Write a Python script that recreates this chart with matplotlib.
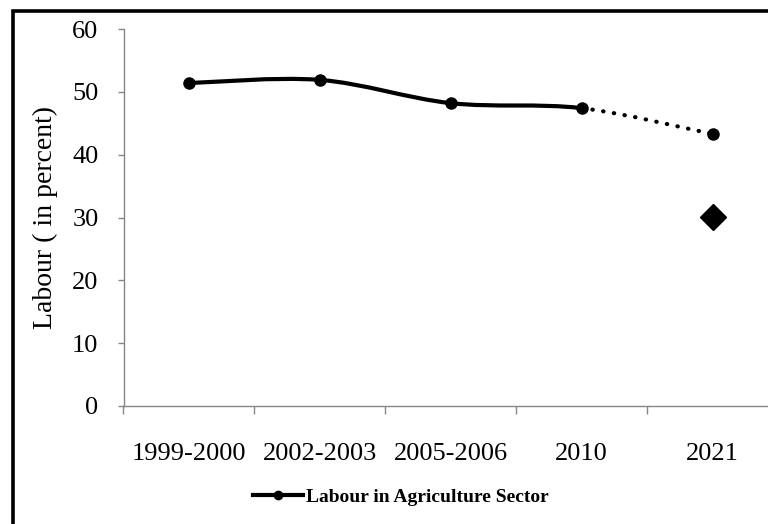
import matplotlib
matplotlib.use("Agg")
import matplotlib.pyplot as plt
import numpy as np
from matplotlib.path import Path
from matplotlib.patches import PathPatch, Rectangle
from matplotlib.lines import Line2D

categories = ["1999-2000", "2002-2003", "2005-2006", "2010", "2021"]
labour = [51.4, 51.9, 48.2, 47.4, 43.3]
target_2021 = 30.1
yticks = [0, 10, 20, 30, 40, 50, 60]

plt.rcParams['font.family'] = ['Liberation Serif', 'DejaVu Serif']

W, H = 768, 524
fig = plt.figure(figsize=(W / 100, H / 100), dpi=100)
ax = fig.add_axes([123.5 / W, (H - 406) / H, (778 - 123.5) / W, (406 - 29) / H])

x = np.arange(len(categories), dtype=float)
y = np.array(labour, dtype=float)


def smooth_path(xs, ys, i0, i1):
    verts = [(xs[i0], ys[i0])]
    codes = [Path.MOVETO]
    n = len(xs)
    for i in range(i0, i1):
        p0 = np.array([xs[max(i - 1, 0)], ys[max(i - 1, 0)]])
        p1 = np.array([xs[i], ys[i]])
        p2 = np.array([xs[i + 1], ys[i + 1]])
        p3 = np.array([xs[min(i + 2, n - 1)], ys[min(i + 2, n - 1)]])
        c1 = p1 + (p2 - p0) / 6.0
        c2 = p2 - (p3 - p1) / 6.0
        verts += [tuple(c1), tuple(c2), tuple(p2)]
        codes += [Path.CURVE4] * 3
    return Path(verts, codes)


solid = PathPatch(smooth_path(x, y, 0, 3), fill=False, lw=3.0, ec='black',
                  capstyle='round', joinstyle='round', zorder=3)
ax.add_patch(solid)
dotted = PathPatch(smooth_path(x, y, 3, 4), fill=False, lw=3.0, ec='black',
                   linestyle=(0, (0.1, 2.5)), capstyle='round', zorder=3)
ax.add_patch(dotted)
ax.plot(x, y, linestyle='none', marker='o', ms=8, color='black', zorder=4)
ax.plot([x[4]], [target_2021], linestyle='none', marker='D', ms=13, color='black', zorder=4)

ax.set_xlim(-0.5, len(categories) - 0.5)
ax.set_ylim(0, 60)
ax.set_yticks(yticks)
ax.set_yticklabels([str(v) for v in yticks], fontsize=19)
ax.set_xticks(x)
ax.set_xticklabels(categories, fontsize=19)
ax.set_xticks(np.arange(-0.5, len(categories), 1.0), minor=True)
ax.tick_params(axis='x', which='major', length=0, pad=27)
ax.tick_params(axis='x', which='minor', length=6, direction='out', color='#868686', width=1)
ax.tick_params(axis='y', length=4, direction='out', color='#868686', width=1, pad=14)

for s in ['top', 'right']:
    ax.spines[s].set_visible(False)
for s in ['left', 'bottom']:
    ax.spines[s].set_color('#868686')
    ax.spines[s].set_linewidth(1)

ax.set_ylabel("Labour ( in percent)", fontsize=20, labelpad=10)

handle = Line2D([], [], color='black', lw=3.0, marker='o', ms=6)
leg = fig.legend([handle], ["Labour in Agriculture Sector"], loc='center',
                 bbox_to_anchor=(401 / W, (H - 497) / H), frameon=False,
                 prop={'weight': 'bold', 'size': 14}, handlelength=2.6,
                 handletextpad=0.15)

fig.add_artist(Rectangle((12.5 / W, -0.1), 1.2, (H - 11) / H + 0.1,
                         transform=fig.transFigure, fill=False, lw=2.6, ec='black'))

fig.savefig("out.png", dpi=100)
